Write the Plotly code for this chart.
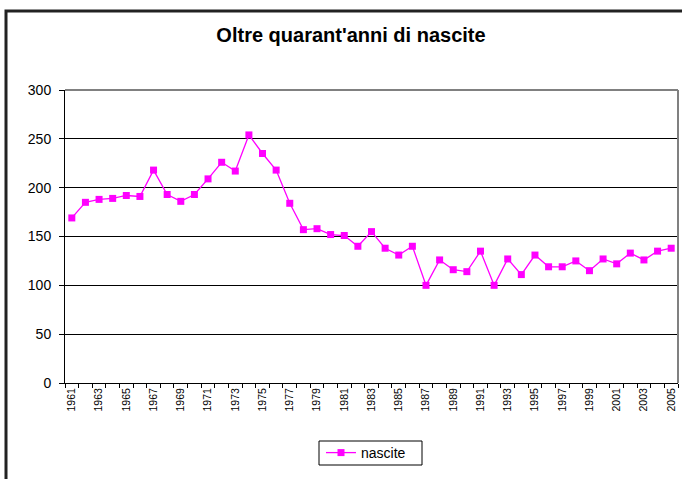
import plotly.graph_objects as go

years = list(range(1961, 2006))
nascite = [169, 185, 188, 189, 192, 191, 218, 193, 186, 193,
           209, 226, 217, 254, 235, 218, 184, 157, 158, 152,
           151, 140, 155, 138, 131, 140, 100, 126, 116, 114,
           135, 100, 127, 111, 131, 119, 119, 125, 115, 127,
           122, 133, 126, 135, 138]
tick_years = list(range(1961, 2006, 2))
title_text = "Oltre quarant'anni di nascite"
series_name = "nascite"

# pixel geometry of plot area: x 65..678, y 90..383
PW, PH = 613.0, 293.0
def px(x):
    return (x - 65) / PW
def py(y):
    return (383 - y) / PH

fig = go.Figure()
fig.add_trace(go.Scatter(
    x=years, y=nascite, mode="lines+markers", name=series_name,
    line=dict(color="#FF00FF", width=1.3),
    marker=dict(symbol="square", size=7, color="#FF00FF"),
))

fig.update_layout(
    width=682, height=479,
    margin=dict(l=65, r=4, t=90, b=96),
    paper_bgcolor="white", plot_bgcolor="white",
    font=dict(family="Arial, Liberation Sans", size=12, color="black"),
    title=dict(text="<b>" + title_text + "</b>", x=351/682, xanchor="center",
               y=1 - 35/479, yanchor="middle",
               font=dict(size=20, family="Arial, Liberation Sans", color="black")),
    showlegend=True,
    legend=dict(x=px(321), xanchor="left", y=py(453), yanchor="middle",
                borderwidth=0, bgcolor="rgba(0,0,0,0)",
                font=dict(size=14), orientation="h"),
    xaxis=dict(range=[1960.5, 2005.5], tickmode="array", tickvals=tick_years,
               ticktext=[str(y) for y in tick_years], tickangle=-90,
               ticks="", showgrid=False, zeroline=False, automargin=False,
               showline=True, linecolor="black", linewidth=1,
               tickfont=dict(size=10.5),
               minor=dict(tickmode="linear", tick0=1960.5, dtick=1,
                          ticks="outside", ticklen=4, tickcolor="black",
                          showgrid=False)),
    yaxis=dict(range=[0, 300], tickmode="linear", tick0=0, dtick=50,
               ticks="outside", ticklen=5, tickcolor="black", automargin=False,
               ticklabelstandoff=5,
               showgrid=True, gridcolor="black", gridwidth=1,
               zeroline=False, showline=True, linecolor="black", linewidth=1,
               tickfont=dict(size=14)),
    shapes=[
        dict(type="line", xref="paper", yref="paper", x0=0, x1=1, y0=1, y1=1,
             line=dict(color="#808080", width=2), layer="above"),
        dict(type="line", xref="paper", yref="paper", x0=1, x1=1, y0=0, y1=1,
             line=dict(color="#808080", width=2), layer="above"),
        dict(type="rect", xref="paper", yref="paper",
             x0=px(6), x1=px(700), y0=py(500), y1=py(11),
             line=dict(color="#222222", width=3), layer="above"),
        dict(type="rect", xref="paper", yref="paper",
             x0=px(319), x1=px(422), y0=py(465), y1=py(441),
             line=dict(color="black", width=1), layer="above"),
    ],
)

fig.write_html("out.html", config={"displayModeBar": False},
               post_script="document.body.style.margin='0';document.body.style.overflow='hidden';")
